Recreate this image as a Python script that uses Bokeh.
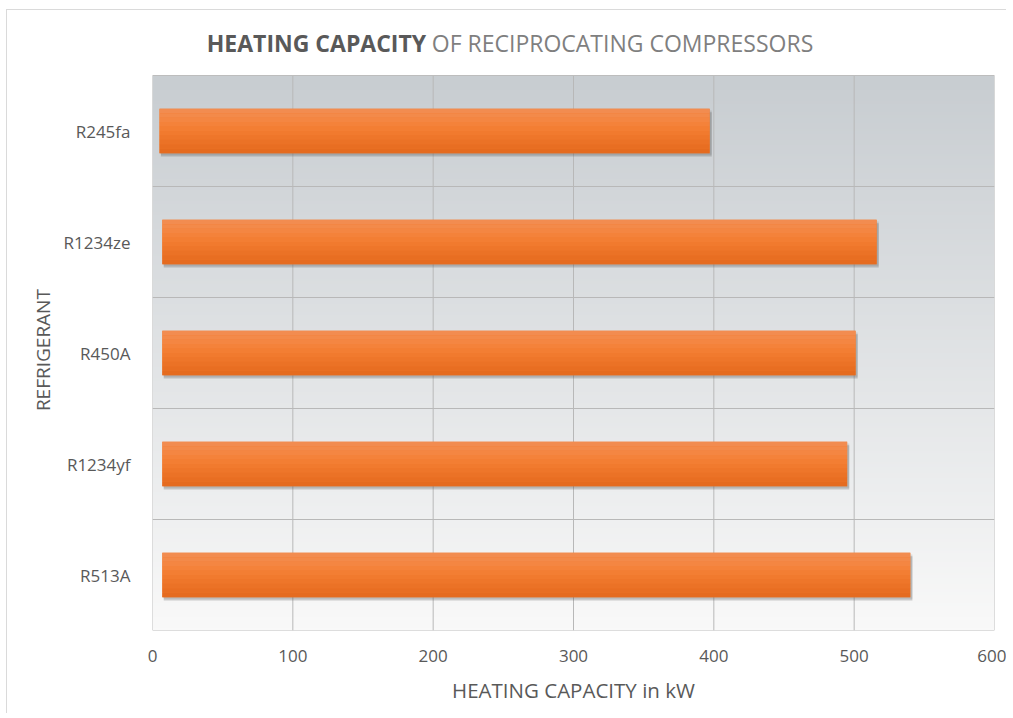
import numpy as np
from bokeh.plotting import figure
from bokeh.models import FixedTicker, Label, ColumnDataSource
from bokeh.transform import dodge
from bokeh.embed import file_html
from bokeh.resources import INLINE

# ---- data ----
refrigerants = ["R245fa", "R1234ze", "R450A", "R1234yf", "R513A"]
capacity_kw = [397, 516, 501, 495, 540]
bar_start = [5, 7, 7, 7, 7]
x_ticks = [0, 100, 200, 300, 400, 500, 600]

n = len(refrigerants)
ypos = [n - 1 - i + 0.5 for i in range(n)]

FONT = "Open Sans"
TXT = "#595959"
GRID = "#b8b8b8"
W, H_ = 1000, 704
TOP_ROOM = 65 / 111.0          # room above the plot area for the title (in category units)

p = figure(width=W, height=H_, output_backend="svg", toolbar_location=None,
           x_range=(0, 600), y_range=(0, n + TOP_ROOM),
           min_border_left=145, min_border_right=13, min_border_top=0, min_border_bottom=84)
p.styles = {"border-left": "1px solid #dadada", "border-top": "1px solid #dadada",
            "margin-left": "6px", "margin-top": "9px"}
p.background_fill_color = "#ffffff"
p.border_fill_color = "#ffffff"
p.outline_line_color = None
p.xgrid.visible = False
p.ygrid.visible = False

# gradient background of the plot area
G = 200
top = np.array([200, 205, 209], dtype=float)
bot = np.array([249, 249, 249], dtype=float)
t = np.linspace(0, 1, G)[:, None]
cols = bot * (1 - t) + top * t
img = np.zeros((G, 2), dtype=np.uint32)
view = img.view(dtype=np.uint8).reshape((G, 2, 4))
for ch in range(3):
    view[:, :, ch] = cols[:, ch:ch + 1].astype(np.uint8)
view[:, :, 3] = 255
p.image_rgba(image=[img], x=0, y=0, dw=600, dh=n, level="image")

# grid lines limited to the plot area
inner_x = x_ticks[1:-1]
p.segment(x0=inner_x, x1=inner_x, y0=[0] * len(inner_x), y1=[n] * len(inner_x),
          line_color=GRID, line_width=1)
inner_y = list(range(1, n))
p.segment(x0=[0] * len(inner_y), x1=[600] * len(inner_y), y0=inner_y, y1=inner_y,
          line_color=GRID, line_width=1)
p.quad(left=0, right=600, bottom=0, top=n, fill_alpha=0, line_color="#bdbdbd", line_width=1)

src = ColumnDataSource(dict(y=ypos, right=capacity_kw, left=bar_start,
                            sright=[c + 1.5 for c in capacity_kw],
                            sleft=[s + 1.0 for s in bar_start]))

# shadow
p.hbar(y=dodge("y", -0.03), left="sleft", right="sright", height=0.4, source=src,
       fill_color="#555555", fill_alpha=0.28, line_color=None)
p.hbar(y=dodge("y", -0.015), left="sleft", right="sright", height=0.4, source=src,
       fill_color="#555555", fill_alpha=0.15, line_color=None)

bar_h = 0.4
p.hbar(y="y", left="left", right="right", height=bar_h, source=src,
       fill_color="#f07a2c", line_color=None)
strip_cols = ["#f28c50", "#f38a4a", "#f48642", "#f4823a", "#f37e33", "#f17a2e",
              "#ee762a", "#eb7226", "#e86e22", "#e56b1f"]
ns = len(strip_cols)
sh = bar_h / ns
for k, c in enumerate(strip_cols):
    off = bar_h / 2 - sh * (k + 0.5)
    p.hbar(y=dodge("y", off), left="left", right="right", height=sh * 1.05, source=src,
           fill_color=c, line_color=None)

# axes
p.xaxis.ticker = FixedTicker(ticks=x_ticks)
p.yaxis.ticker = FixedTicker(ticks=ypos)
p.yaxis.major_label_overrides = {y: r for y, r in zip(ypos, refrigerants)}
for ax in (p.xaxis[0], p.yaxis[0]):
    ax.axis_line_color = None
    ax.major_tick_line_color = None
    ax.minor_tick_line_color = None
    ax.major_label_text_font = FONT
    ax.major_label_text_font_size = "17px"
    ax.major_label_text_color = TXT
    ax.axis_label_text_font = FONT
    ax.axis_label_text_font_style = "normal"
    ax.axis_label_text_color = TXT
p.xaxis.axis_label_text_font_size = "20.5px"
p.yaxis.axis_label_text_font_size = "19px"
p.xaxis.axis_label = "HEATING CAPACITY in kW"
# trailing no-break spaces move the rotated label down to the middle of the plot area
p.yaxis.axis_label = "REFRIGERANT" + "\u00a0" * 12
p.xaxis.major_label_standoff = 13
p.xaxis.axis_label_standoff = 11
p.yaxis.major_label_standoff = 16
p.yaxis.axis_label_standoff = 5

# two-tone title, inside the (extended) frame above the plot area
TY = n + 33 / 111.0
p.add_layout(Label(x=195, y=TY, text="HEATING CAPACITY", text_align="right",
                   text_baseline="middle", text_font=FONT, text_font_size="23px",
                   text_font_style="bold", text_color="#595959"))
p.add_layout(Label(x=199, y=TY, text="OF RECIPROCATING COMPRESSORS", text_align="left",
                   text_baseline="middle", text_font=FONT, text_font_size="23px",
                   text_font_style="normal", text_color="#7f7f7f"))

open("out.html", "w").write(file_html(p, INLINE))
